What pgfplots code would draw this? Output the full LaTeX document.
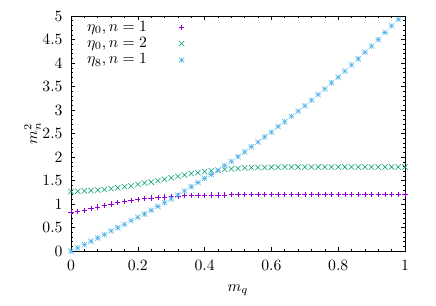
\documentclass[border=0pt]{standalone}
\usepackage{pgfplots}
\usepackage{pgfplotstable}
\pgfplotsset{compat=1.18}
\definecolor{gppurple}{HTML}{9400D3}
\definecolor{gpgreen}{HTML}{009E73}
\definecolor{gpblue}{HTML}{56B4E9}
\pgfdeclareplotmark{gpstar}{%
  \pgfpathmoveto{\pgfqpoint{-\pgfplotmarksize}{0pt}}\pgfpathlineto{\pgfqpoint{\pgfplotmarksize}{0pt}}%
  \pgfpathmoveto{\pgfqpoint{0pt}{-\pgfplotmarksize}}\pgfpathlineto{\pgfqpoint{0pt}{\pgfplotmarksize}}%
  \pgfpathmoveto{\pgfqpoint{-\pgfplotmarksize}{-\pgfplotmarksize}}\pgfpathlineto{\pgfqpoint{\pgfplotmarksize}{\pgfplotmarksize}}%
  \pgfpathmoveto{\pgfqpoint{-\pgfplotmarksize}{\pgfplotmarksize}}\pgfpathlineto{\pgfqpoint{\pgfplotmarksize}{-\pgfplotmarksize}}%
  \pgfusepathqstroke}
\pgfdeclareplotmark{gpx}{%
  \pgfpathmoveto{\pgfqpoint{-\pgfplotmarksize}{-\pgfplotmarksize}}\pgfpathlineto{\pgfqpoint{\pgfplotmarksize}{\pgfplotmarksize}}%
  \pgfpathmoveto{\pgfqpoint{-\pgfplotmarksize}{\pgfplotmarksize}}\pgfpathlineto{\pgfqpoint{\pgfplotmarksize}{-\pgfplotmarksize}}%
  \pgfusepathqstroke}
\pgfplotsset{
  mymarks/.style={only marks, mark size=1.7bp, line width=0.35pt,
    legend image code/.code={\path[draw=none,fill=none] (0bp,0bp) rectangle (26bp,0.1bp); \path[##1] plot coordinates {(20bp,0bp)};}},
}

\pgfplotstableread{
x a b c
0.00 0.83 1.27 0.00
0.02 0.85 1.275 0.07
0.04 0.87 1.28 0.14
0.06 0.91 1.29 0.21
0.08 0.94 1.30 0.28
0.10 0.97 1.31 0.35
0.12 1.00 1.33 0.43
0.14 1.03 1.35 0.50
0.16 1.06 1.37 0.57
0.18 1.08 1.39 0.65
0.20 1.10 1.42 0.72
0.22 1.12 1.45 0.79
0.24 1.13 1.47 0.87
0.26 1.145 1.50 0.95
0.28 1.155 1.53 1.03
0.30 1.165 1.56 1.11
0.32 1.175 1.59 1.19
0.34 1.18 1.62 1.28
0.36 1.185 1.65 1.37
0.38 1.19 1.67 1.46
0.40 1.19 1.69 1.55
0.42 1.195 1.71 1.63
0.44 1.195 1.72 1.72
0.46 1.195 1.74 1.82
0.48 1.20 1.75 1.91
0.50 1.20 1.76 2.01
0.52 1.20 1.77 2.11
0.54 1.20 1.775 2.22
0.56 1.20 1.78 2.32
0.58 1.20 1.78 2.43
0.60 1.20 1.785 2.53
0.62 1.20 1.785 2.65
0.64 1.20 1.79 2.75
0.66 1.20 1.79 2.87
0.68 1.20 1.79 2.98
0.70 1.20 1.79 3.09
0.72 1.20 1.79 3.21
0.74 1.20 1.79 3.33
0.76 1.20 1.79 3.45
0.78 1.20 1.79 3.58
0.80 1.20 1.79 3.70
0.82 1.20 1.79 3.83
0.84 1.20 1.79 3.96
0.86 1.20 1.79 4.09
0.88 1.20 1.79 4.23
0.90 1.20 1.79 4.36
0.92 1.20 1.79 4.50
0.94 1.20 1.79 4.65
0.96 1.20 1.79 4.79
0.98 1.20 1.79 4.93
1.00 1.20 1.79 nan
}\datatab

\begin{document}
\begin{tikzpicture}
\useasboundingbox (-45.1bp,-34.4bp) rectangle (231.8bp,159.5bp);
\begin{axis}[
  scale only axis,
  width=212.1bp, height=149.3bp,
  xmin=0, xmax=1, ymin=0, ymax=5,
  xtick={0,0.2,0.4,0.6,0.8,1}, ytick={0,0.5,1,1.5,2,2.5,3,3.5,4,4.5,5},
  minor x tick num=4, minor y tick num=4,
  major tick length=2.7bp, minor tick length=1.4bp,
  tick style={black, line width=0.35pt},
  axis line style={line width=0.4pt},
  tick align=inside,
  xticklabel style={/pgf/number format/fixed, yshift=-2.3bp},
  yticklabel style={/pgf/number format/fixed, /pgf/number format/precision=1, xshift=-1.9bp},
  xlabel={$m_q$}, ylabel={$m_n^2$},
  xlabel style={at={(axis description cs:0.5,-0.165)}, anchor=center},
  ylabel style={at={(axis description cs:-0.115,0.5)}, anchor=center},
  legend plot pos=right,
  legend cell align=right,
  legend style={draw=none, fill=none, at={(0,1)}, anchor=north west, xshift=7bp, yshift=0bp, row sep=-1.5bp, inner sep=1pt},
]
\addplot[mymarks, color=gppurple, mark=+] table[x=x,y=a] {\datatab};
\addlegendentry{$\eta_0, n=1$}
\addplot[mymarks, color=gpgreen, mark=gpx] table[x=x,y=b] {\datatab};
\addlegendentry{$\eta_0, n=2$}
\addplot[mymarks, color=gpblue, mark=gpstar] table[x=x,y=c] {\datatab};
\addlegendentry{$\eta_8, n=1$}
\end{axis}
\end{tikzpicture}
\end{document}
